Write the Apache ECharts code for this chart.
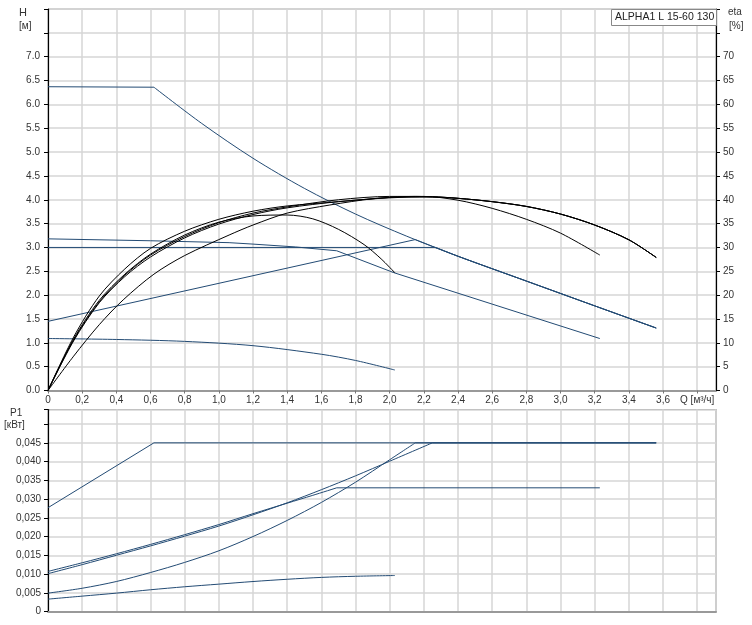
<!DOCTYPE html>
<html>
<head>
<meta charset="utf-8">
<script src="https://cdn.jsdelivr.net/npm/echarts@6/dist/echarts.min.js"></script>
<style>
html,body{margin:0;padding:0;background:#fff;}
#c{width:752px;height:625px;}
</style>
</head>
<body>
<div id="c"></div>
<script>
// ---- H curves [Q m3/h, H m] ----
var hMax = [[0,6.37],[0.62,6.36],[0.9,5.60],[1.2,4.87],[1.5,4.24],[1.8,3.70],[2.1,3.235],[2.4,2.815],[2.8,2.295],[3.2,1.775],[3.56,1.31]];
var hTail = [[2.15,3.165],[2.4,2.815],[2.8,2.295],[3.2,1.775],[3.56,1.31]];
var hCP = [[0,3.0],[2.27,3.0]];
var hPP = [[0,1.45],[2.15,3.165]];
var hII = [[0,3.18],[0.6,3.14],[1.06,3.10],[1.2,3.07],[1.45,3.01],[1.69,2.93],[2.025,2.47],[3.23,1.09]];
var hI = [[0,1.09],[0.4,1.07],[0.8,1.03],[1.2,0.94],[1.6,0.76],[1.8,0.63],[2.03,0.43]];

// ---- eta curves [Q, %] ----
var etaMax = [[0,0],[0.15,7.2],[0.3,13.8],[0.44,19.0],[0.62,24.4],[0.8,28.3],[1.06,32.6],[1.2,34.7],[1.4,37.2],[1.65,38.9],[1.9,40.2],[2.1,40.6],[2.25,40.6],[2.4,40.3],[2.6,39.6],[2.8,38.6],[3.0,37.0],[3.2,34.7],[3.4,31.6],[3.56,27.9]];
var etaTail = [[2.25,40.6],[2.4,40.3],[2.6,39.6],[2.8,38.6],[3.0,37.0],[3.2,34.7],[3.4,31.6],[3.56,27.9]];
var etaPP = [[0,0],[0.15,11.2],[0.3,19.8],[0.45,25.5],[0.6,29.8],[0.8,33.4],[1.0,35.9],[1.2,37.6],[1.4,38.7],[1.7,39.6],[2.0,40.5],[2.15,40.7]];
var etaCP = [[0,0],[0.15,10.4],[0.3,18.4],[0.45,23.9],[0.6,28.0],[0.8,32.0],[1.0,34.9],[1.2,36.9],[1.4,38.3],[1.7,39.6],[2.0,40.4]];
var etaII = [[0,0],[0.15,10.6],[0.3,18.6],[0.45,24.2],[0.6,28.4],[0.8,32.3],[1.0,35.2],[1.2,37.2],[1.4,38.5],[1.7,40.0],[2.0,40.7],[2.2,40.7],[2.4,39.9],[2.6,38.2],[2.8,35.9],[3.0,33.0],[3.23,28.4]];
var etaI = [[0,0],[0.15,10.8],[0.3,18.9],[0.45,24.4],[0.6,28.6],[0.8,32.6],[1.0,35.3],[1.2,36.6],[1.4,36.8],[1.55,36.0],[1.7,33.8],[1.85,30.6],[1.95,27.6],[2.03,24.7]];

// ---- P1 curves [Q, kW] ----
var pMax = [[0,0.0277],[0.62,0.045],[3.56,0.045]];
var pTail = [[2.25,0.045],[3.56,0.045]];
var pII = [[0,0.0107],[0.2,0.0130],[0.4,0.0154],[0.6,0.0179],[0.8,0.0205],[1.0,0.0232],[1.2,0.0261],[1.4,0.0289],[1.55,0.0310],[1.69,0.0330],[3.23,0.0330]];
var pCP = [[0,0.0101],[0.2,0.0125],[0.4,0.0150],[0.6,0.0175],[0.8,0.0201],[1.0,0.0228],[1.2,0.0258],[1.4,0.0290],[1.6,0.0325],[1.8,0.0362],[2.0,0.0401],[2.25,0.045]];
var pPP = [[0,0.0049],[0.2,0.0062],[0.4,0.0080],[0.6,0.0104],[0.8,0.0131],[1.0,0.0162],[1.2,0.0200],[1.4,0.0243],[1.6,0.0291],[1.8,0.0345],[2.0,0.0405],[2.15,0.045]];
var pI = [[0,0.0033],[0.2,0.0041],[0.4,0.0049],[0.6,0.0058],[0.8,0.0066],[1.0,0.0073],[1.2,0.0080],[1.4,0.0086],[1.6,0.0091],[1.8,0.0094],[2.03,0.0096]];

var BLUE = '#234b74';
var BLACK = '#000000';
var FONT = 'Liberation Sans, Arial, sans-serif';

function ln(name, data, xi, yi, color, smooth, w) {
  return {
    name: name, type: 'line', data: data, xAxisIndex: xi, yAxisIndex: yi,
    showSymbol: false, symbol: 'none', smooth: smooth ? 0.3 : false,
    lineStyle: { color: color, width: w || 1 }, silent: true, animation: false
  };
}

var gridLine = { lineStyle: { color: '#d6d6d6', width: 1.5 } };
var labelBase = { fontSize: 10, color: '#333', fontFamily: FONT };

var chart = echarts.init(document.getElementById('c'), null, { renderer: 'canvas' });
chart.setOption({
  animation: false,
  backgroundColor: '#fff',
  grid: [
    { left: 48, top: 9, width: 668, height: 381.5, show: true, borderColor: '#999', borderWidth: 1, containLabel: false },
    { left: 48, top: 409.5, width: 668, height: 202, show: true, borderColor: '#888', borderWidth: 1.2, containLabel: false }
  ],
  xAxis: [
    { type: 'value', gridIndex: 0, min: 0, max: 3.91, interval: 0.2,
      axisLine: { onZero: false, lineStyle: { color: '#999', width: 2 } },
      axisTick: { show: true, length: 3, lineStyle: { color: '#777' } },
      splitLine: gridLine,
      axisLabel: Object.assign({}, labelBase, { margin: 5, showMaxLabel: false,
        formatter: function (v) {
          if (Math.abs(v - 3.8) < 1e-6) return 'Q [м³/ч]';
          if (v > 3.85) return '';
          if (v === 0) return '0';
          return v.toFixed(1).replace('.', ',');
        } }) },
    { type: 'value', gridIndex: 1, min: 0, max: 3.91, interval: 0.2,
      axisLine: { onZero: false, lineStyle: { color: '#999', width: 2 } },
      axisTick: { show: false }, axisLabel: { show: false },
      splitLine: gridLine }
  ],
  yAxis: [
    { type: 'value', gridIndex: 0, min: 0, max: 8, interval: 0.5, position: 'left',
      axisLine: { show: true, onZero: false, lineStyle: { color: '#000', width: 1.2 } },
      axisTick: { show: true, length: 4, lineStyle: { color: '#000' } },
      splitLine: gridLine,
      axisLabel: Object.assign({}, labelBase, { margin: 8,
        formatter: function (v) { return v > 7.01 ? '' : v.toFixed(1); } }) },
    { type: 'value', gridIndex: 0, min: 0, max: 80, interval: 5, position: 'right',
      axisLine: { show: true, onZero: false, lineStyle: { color: '#000', width: 1.2 } },
      axisTick: { show: true, length: 4, lineStyle: { color: '#000' } },
      splitLine: { show: false },
      axisLabel: Object.assign({}, labelBase, { margin: 7,
        formatter: function (v) { return v > 71 ? '' : String(v); } }) },
    { type: 'value', gridIndex: 1, min: 0, max: 0.0539, interval: 0.005, position: 'left',
      axisLine: { show: true, onZero: false, lineStyle: { color: '#000', width: 1.2 } },
      axisTick: { show: true, length: 4, lineStyle: { color: '#000' } },
      splitLine: gridLine,
      axisLabel: Object.assign({}, labelBase, { margin: 7,
        formatter: function (v) {
          if (v === 0) return '0';
          if (v > 0.0455) return '';
          return v.toFixed(3).replace('.', ',');
        } }) }
  ],
  series: [
    ln('H max flat', hMax.slice(0, 2), 0, 0, BLUE, false),
    ln('H max', hMax.slice(1), 0, 0, BLUE, true),
    ln('H CP', hCP, 0, 0, BLUE, false),
    ln('H CP tail', [hCP[1]].concat(hTail.slice(1)), 0, 0, BLUE, true),
    ln('H PP', hPP, 0, 0, BLUE, false),
    ln('H PP tail', hTail, 0, 0, BLUE, true),
    ln('H II', hII, 0, 0, BLUE, false),
    ln('H I', hI, 0, 0, BLUE, true),
    ln('eta max', etaMax, 0, 1, BLACK, true),
    ln('eta PP', etaPP.concat(etaTail), 0, 1, BLACK, true),
    ln('eta CP', etaCP.concat(etaTail), 0, 1, BLACK, true),
    ln('eta II', etaII, 0, 1, BLACK, true),
    ln('eta I', etaI, 0, 1, BLACK, true),
    ln('P1 max', pMax, 1, 2, BLUE, false),
    ln('P1 II', pII.slice(0, 10), 1, 2, BLUE, true),
    ln('P1 II flat', pII.slice(9), 1, 2, BLUE, false),
    ln('P1 CP', pCP, 1, 2, BLUE, true),
    ln('P1 CP tail', pTail, 1, 2, BLUE, false),
    ln('P1 PP', pPP, 1, 2, BLUE, true),
    ln('P1 PP tail', [pPP[pPP.length - 1]].concat(pTail), 1, 2, BLUE, false),
    ln('P1 I', pI, 1, 2, BLUE, true)
  ],
  graphic: [
    { type: 'text', left: 19, top: 7, style: { text: 'H', fontSize: 11, fill: '#333', fontFamily: FONT } },
    { type: 'text', left: 19, top: 21, style: { text: '[м]', fontSize: 10, fill: '#333', fontFamily: FONT } },
    { type: 'text', left: 728, top: 7, style: { text: 'eta', fontSize: 10, fill: '#333', fontFamily: FONT } },
    { type: 'text', left: 729, top: 21, style: { text: '[%]', fontSize: 10, fill: '#333', fontFamily: FONT } },
    { type: 'text', left: 10, top: 408, style: { text: 'P1', fontSize: 10, fill: '#333', fontFamily: FONT } },
    { type: 'text', left: 4, top: 420, style: { text: '[кВт]', fontSize: 10, fill: '#333', fontFamily: FONT } },
    { type: 'rect', shape: { x: 611.5, y: 9.5, width: 105, height: 16 }, style: { fill: '#fff', stroke: '#888', lineWidth: 1 }, z: 10 },
    { type: 'text', x: 615, y: 12, z: 11, style: { text: 'ALPHA1 L 15-60 130', fontSize: 10.5, fill: '#222', fontFamily: FONT } }
  ]
});
</script>
</body>
</html>
